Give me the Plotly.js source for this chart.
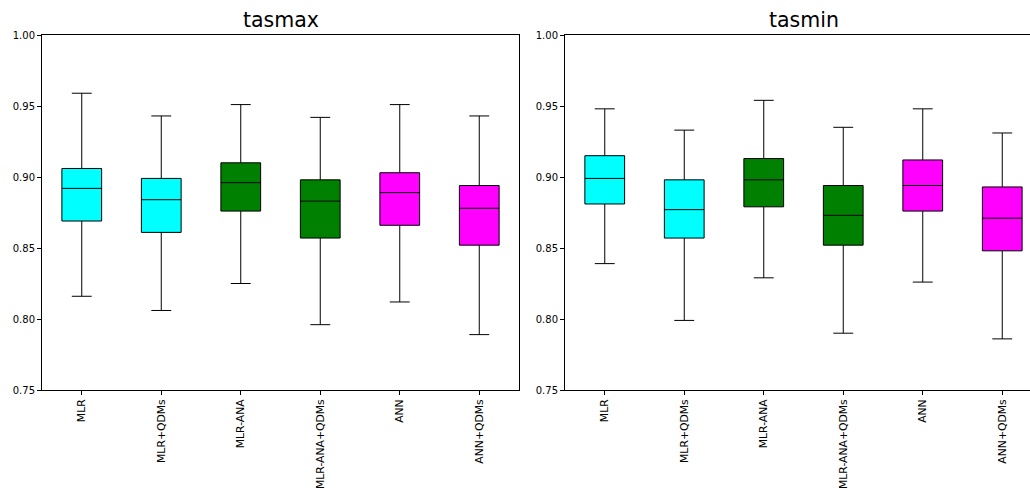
<!DOCTYPE html>
<html>
<head>
<meta charset="utf-8">
<script src="https://cdn.plot.ly/plotly-3.0.1.min.js"></script>
<style>
html, body { margin: 0; padding: 0; overflow: hidden; background: #fff; }
#chart { width: 1060px; height: 488px; }
</style>
</head>
<body>
<div id="chart"></div>
<script>
// ---- data ----
const categories = ["MLR", "MLR+QDMs", "MLR-ANA", "MLR-ANA+QDMs", "ANN", "ANN+QDMs"];
const boxColors = ["#00ffff", "#00ffff", "#008000", "#008000", "#ff00ff", "#ff00ff"];

const tasmaxLower  = [0.816, 0.806, 0.825, 0.796, 0.812, 0.789];
const tasmaxQ1     = [0.869, 0.861, 0.876, 0.857, 0.866, 0.852];
const tasmaxMedian = [0.892, 0.884, 0.896, 0.883, 0.889, 0.878];
const tasmaxQ3     = [0.906, 0.899, 0.910, 0.898, 0.903, 0.894];
const tasmaxUpper  = [0.959, 0.943, 0.951, 0.942, 0.951, 0.943];

const tasminLower  = [0.839, 0.799, 0.829, 0.790, 0.826, 0.786];
const tasminQ1     = [0.881, 0.857, 0.879, 0.852, 0.876, 0.848];
const tasminMedian = [0.899, 0.877, 0.898, 0.873, 0.894, 0.871];
const tasminQ3     = [0.915, 0.898, 0.913, 0.894, 0.912, 0.893];
const tasminUpper  = [0.948, 0.933, 0.954, 0.935, 0.948, 0.931];

const yTicks = [0.75, 0.80, 0.85, 0.90, 0.95, 1.00];
const titles = ["tasmax", "tasmin"];

// ---- build traces ----
const traces = [];
function addBoxes(lower, q1, med, q3, upper, xa, ya) {
  categories.forEach((c, i) => {
    traces.push({
      type: "box",
      x: [c],
      lowerfence: [lower[i]],
      q1: [q1[i]],
      median: [med[i]],
      q3: [q3[i]],
      upperfence: [upper[i]],
      fillcolor: boxColors[i],
      line: { color: "#000000", width: 1 },
      width: 0.5,
      whiskerwidth: 0.5,
      boxpoints: false,
      hoverinfo: "y",
      showlegend: false,
      xaxis: xa,
      yaxis: ya
    });
  });
}
addBoxes(tasmaxLower, tasmaxQ1, tasmaxMedian, tasmaxQ3, tasmaxUpper, "x", "y");
addBoxes(tasminLower, tasminQ1, tasminMedian, tasminQ3, tasminUpper, "x2", "y2");

const W = 1060;
const xFont = { family: "DejaVu Sans, sans-serif", size: 10.8, color: "#000" };
const yFont = { family: "DejaVu Sans, sans-serif", size: 10, color: "#000" };
const titleFont = { family: "DejaVu Sans, sans-serif", size: 20.5, color: "#000" };

function xAxis(d0, d1, anchor) {
  return {
    domain: [d0 / W, d1 / W],
    anchor: anchor,
    type: "category",
    categoryorder: "array",
    categoryarray: categories,
    range: [-0.5, 5.5],
    tickangle: -90,
    ticks: "outside",
    ticklen: 4,
    tickcolor: "#000",
    showline: true,
    mirror: true,
    linecolor: "#000",
    linewidth: 1,
    showgrid: false,
    zeroline: false,
    tickfont: xFont
  };
}
function yAxis(anchor) {
  return {
    domain: [0, 1],
    anchor: anchor,
    range: [0.75, 1.0],
    tickvals: yTicks,
    ticktext: yTicks.map(v => v.toFixed(2)),
    ticks: "outside",
    ticklen: 4,
    tickcolor: "#000",
    showline: true,
    mirror: true,
    linecolor: "#000",
    linewidth: 1,
    showgrid: false,
    zeroline: false,
    tickfont: yFont
  };
}

const layout = {
  width: W,
  height: 488,
  margin: { l: 0, r: 0, t: 35, b: 98, pad: 0 },
  paper_bgcolor: "#fff",
  plot_bgcolor: "#fff",
  boxmode: "overlay",
  showlegend: false,
  xaxis: xAxis(42, 519, "y"),
  yaxis: yAxis("x"),
  xaxis2: xAxis(565, 1042, "y2"),
  yaxis2: yAxis("x2"),
  annotations: [
    { text: titles[0], xref: "paper", yref: "paper", x: (42 + 519) / 2 / W, y: 1, xanchor: "center", yanchor: "bottom", yshift: 1, showarrow: false, font: titleFont },
    { text: titles[1], xref: "paper", yref: "paper", x: (565 + 1042) / 2 / W, y: 1, xanchor: "center", yanchor: "bottom", yshift: 1, showarrow: false, font: titleFont }
  ]
};

Plotly.newPlot("chart", traces, layout, { displayModeBar: false, staticPlot: true });
</script>
</body>
</html>
